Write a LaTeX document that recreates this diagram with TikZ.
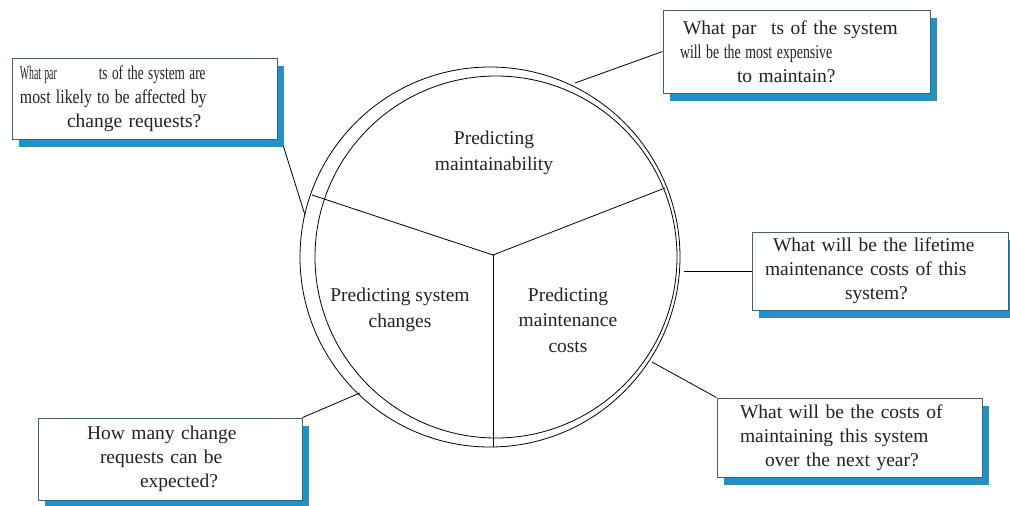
\documentclass[tikz,border=0pt]{standalone}
\usepackage{fontspec}
\setmainfont{Liberation Serif}
\usepackage{xcolor}
\definecolor{boxline}{HTML}{41606B}
\definecolor{shadowblue}{HTML}{2590C4}
\definecolor{inktext}{HTML}{222222}
\usepackage{tikz}
\usetikzlibrary{shadows}

\begin{document}
\begin{tikzpicture}[
  x=1pt, y=-1pt,
  qbox/.style={draw=boxline, fill=white, line width=0.9pt, inner xsep=0pt, inner ysep=0pt,
    align=left, text=inktext, font=\fontsize{19.5}{24}\selectfont,
    drop shadow={shadow xshift=7pt, shadow yshift=-8pt, fill=shadowblue, opacity=1}},
  sector/.style={align=center, text=inktext, font=\fontsize{19.5}{25.5}\selectfont},
  ring/.style={line width=0.8pt, black},
  link/.style={line width=0.8pt, black},
]
\useasboundingbox (0,0) rectangle (1010,506);

% double ring and its three sectors
\draw[ring] (490,257) circle[radius=190pt];
\draw[ring] (496,257) circle[radius=181pt];
\coordinate (hub) at (493,255);
\coordinate (spokeL) at (312,195);
\coordinate (spokeR) at (665,188);
\coordinate (spokeD) at (493,447);
\draw[ring] (hub) -- (spokeL);
\draw[ring] (hub) -- (spokeR);
\draw[ring] (hub) -- (spokeD);

\node[sector] (maint) at (494,153) {Predicting\\maintainability};
\node[sector] (changes) at (400,310) {Predicting system\\changes};
\node[sector] (costs) at (568,320) {Predicting\\maintenance\\costs};

% question boxes
\node[qbox, text width=265pt, minimum height=81pt] (qaffected) at (144.5,98.5)
  {\hspace*{8pt}\scalebox{0.5}[1]{What par}\hspace{42pt}\scalebox{0.68}[1]{ts of the system are}\\
   \hspace*{8pt}\scalebox{0.81}[1]{most likely to be affected by}\\
   \hspace*{55pt}change requests?};
\node[qbox, text width=267pt, minimum height=83pt] (qexpensive) at (796.5,51.5)
  {\hspace*{20pt}What par\hspace{8pt} ts of the system\\
   \hspace*{17pt}\scalebox{0.71}[1]{will be the most expensive}\\
   \hspace*{74pt}to maintain?};
\node[qbox, text width=256pt, minimum height=78pt] (qlifetime) at (880,271)
  {\hspace*{21pt}What will be the lifetime\\
   \hspace*{13pt}maintenance costs of this\\
   \hspace*{93pt}system?};
\node[qbox, text width=265pt, minimum height=79pt] (qcosts) at (849.5,437.5)
  {\hspace*{23pt}What will be the costs of\\
   \hspace*{23pt}maintaining this system\\
   \hspace*{48pt}over the next year?};
\node[qbox, text width=264pt, minimum height=82pt] (qchanges) at (170,459)
  {\hspace*{49pt}How many change\\
   \hspace*{62pt}requests can be\\
   \hspace*{102pt}expected?};

% links from the ring to the boxes
\coordinate (ringA) at (305,215);
\coordinate (ringE) at (575,83);
\coordinate (ringL) at (684,271);
\coordinate (ringC) at (652,362);
\coordinate (ringS) at (360,393);
\draw[link] ([shift={(6pt,-7pt)}]qaffected.south east) -- (ringA);
\draw[link] (qexpensive.west) -- (ringE);
\draw[link] (ringL) -- (qlifetime.west);
\draw[link] (ringC) -- (qcosts.north west);
\draw[link] (ringS) -- (qchanges.north east);

\end{tikzpicture}
\end{document}
